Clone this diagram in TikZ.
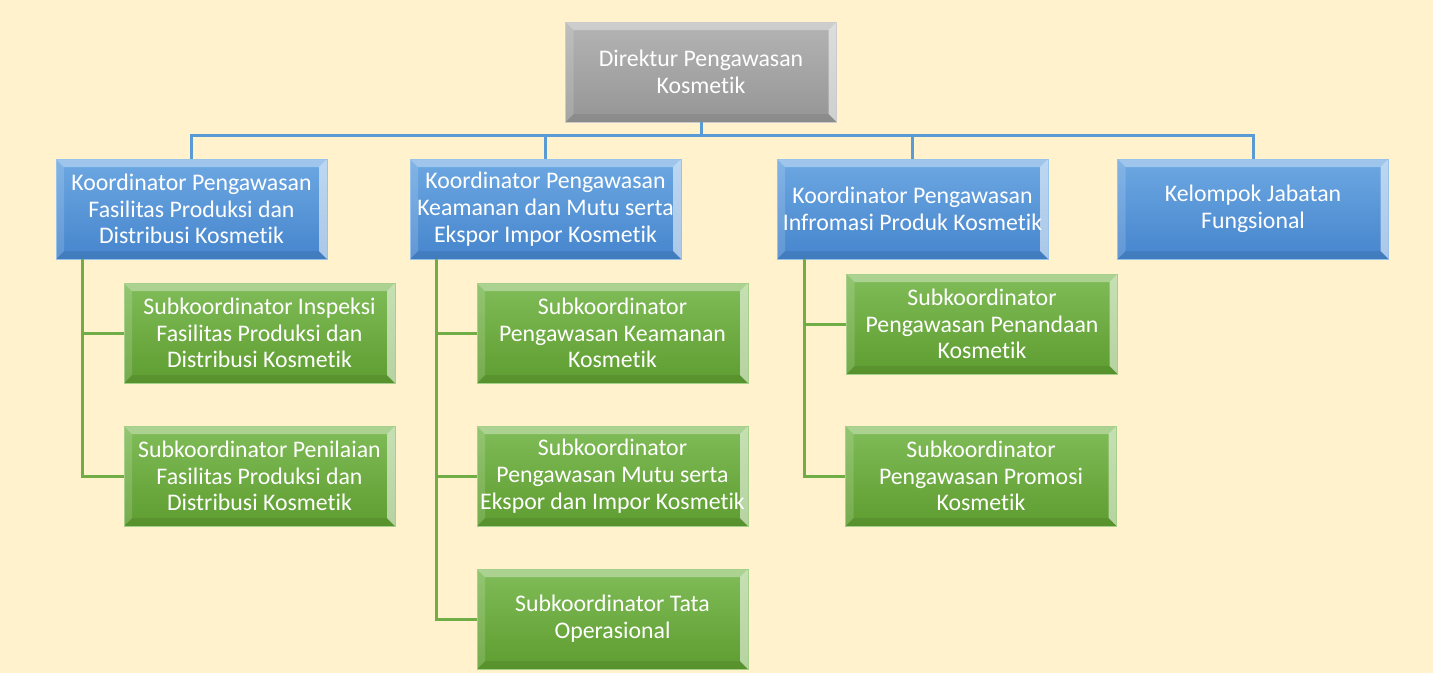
\documentclass[tikz,border=0pt]{standalone}
\usepackage{fontspec}
\setmainfont{Carlito}[Ligatures=NoCommon]
\definecolor{bgcream}{HTML}{FFF2CC}
\definecolor{bluetop}{HTML}{6DA8E2}
\definecolor{bluebot}{HTML}{4685CD}
\definecolor{greentop}{HTML}{80BC58}
\definecolor{greenbot}{HTML}{5E9D30}
\definecolor{graytop}{HTML}{B4B4B4}
\definecolor{graybot}{HTML}{959595}
\definecolor{blueln}{HTML}{5B9BD5}
\definecolor{greenln}{HTML}{70AD47}
\tikzset{
  orgbox/.style={rectangle, minimum width=271pt, minimum height=100pt, inner xsep=-12pt, inner ysep=0pt,
    align=center, text=white,
    font=\fontsize{23.8}{26.8}\selectfont,
    path picture={
      \fill[white,opacity=0.35] (path picture bounding box.north west) -- (path picture bounding box.north east)
        -- ([shift={(-8pt,-8pt)}]path picture bounding box.north east) -- ([shift={(8pt,-8pt)}]path picture bounding box.north west) -- cycle;
      \fill[white,opacity=0.55] (path picture bounding box.north east) -- (path picture bounding box.south east)
        -- ([shift={(-8pt,8pt)}]path picture bounding box.south east) -- ([shift={(-8pt,-8pt)}]path picture bounding box.north east) -- cycle;
      \fill[black,opacity=0.07] (path picture bounding box.south east) -- (path picture bounding box.south west)
        -- ([shift={(8pt,8pt)}]path picture bounding box.south west) -- ([shift={(-8pt,8pt)}]path picture bounding box.south east) -- cycle;
      \fill[white,opacity=0.15] (path picture bounding box.south west) -- (path picture bounding box.north west)
        -- ([shift={(8pt,-8pt)}]path picture bounding box.north west) -- ([shift={(8pt,8pt)}]path picture bounding box.south west) -- cycle;
    }},
  bluebox/.style={orgbox, top color=bluetop, bottom color=bluebot, draw=bluetop!70!white, line width=0.6pt},
  greenbox/.style={orgbox, top color=greentop, bottom color=greenbot, draw=greentop!70!white, line width=0.6pt},
  graybox/.style={orgbox, top color=graytop, bottom color=graybot, draw=graytop!70!white, line width=0.6pt},
  blueline/.style={draw=blueln, line width=3pt},
  greenline/.style={draw=greenln, line width=3pt},
}
\begin{document}
\begin{tikzpicture}[x=1pt,y=-1pt]
\fill[bgcream] (0,0) rectangle (1433,673);
\useasboundingbox (0,0) rectangle (1433,673);

\coordinate (bus) at (0,135);

\node[graybox] (top) at (701,72) {Direktur Pengawasan\\Kosmetik};

\node[bluebox] (b1) at (191.5,209) {Koordinator Pengawasan\\Fasilitas Produksi dan\\Distribusi Kosmetik};
\node[bluebox] (b2) at (545.5,209) {Koordinator Pengawasan\\Keamanan dan Mutu serta\\Ekspor Impor Kosmetik};
\node[bluebox] (b3) at (912.5,209) {Koordinator Pengawasan\\Infromasi Produk Kosmetik};
\node[bluebox] (b4) at (1253,209) {Kelompok Jabatan\\Fungsional};

\node[greenbox] (g1a) at (259.5,333) {Subkoordinator Inspeksi\\Fasilitas Produksi dan\\Distribusi Kosmetik};
\node[greenbox] (g1b) at (259.5,476) {Subkoordinator Penilaian\\Fasilitas Produksi dan\\Distribusi Kosmetik};

\node[greenbox] (g2a) at (612.5,333) {Subkoordinator\\Pengawasan Keamanan\\Kosmetik};
\node[greenbox] (g2b) at (612.5,476) {Subkoordinator\\Pengawasan Mutu serta\\Ekspor dan Impor Kosmetik};
\node[greenbox] (g2c) at (612.5,619) {Subkoordinator Tata\\Operasional};

\node[greenbox] (g3a) at (982,324) {Subkoordinator\\Pengawasan Penandaan\\Kosmetik};
\node[greenbox] (g3b) at (981,476) {Subkoordinator\\Pengawasan Promosi\\Kosmetik};

% blue connectors
\draw[blueline] (top.south) -- (top.south |- bus);
\draw[blueline] (b1.north) -- (b1.north |- bus) -- (b4.north |- bus) -- (b4.north);
\draw[blueline] (b2.north) -- (b2.north |- bus);
\draw[blueline] (b3.north) -- (b3.north |- bus);

% green connectors
\coordinate (s1) at ([xshift=27pt]b1.south west);
\coordinate (s2) at ([xshift=27pt]b2.south west);
\coordinate (s3) at ([xshift=28pt]b3.south west);
\draw[greenline] (s1) |- (g1b.west);
\draw[greenline] (s1 |- g1a.west) -- (g1a.west);
\draw[greenline] (s2) |- (g2c.west);
\draw[greenline] (s2 |- g2a.west) -- (g2a.west);
\draw[greenline] (s2 |- g2b.west) -- (g2b.west);
\draw[greenline] (s3) |- (g3b.west);
\draw[greenline] (s3 |- g3a.west) -- (g3a.west);
\end{tikzpicture}
\end{document}
